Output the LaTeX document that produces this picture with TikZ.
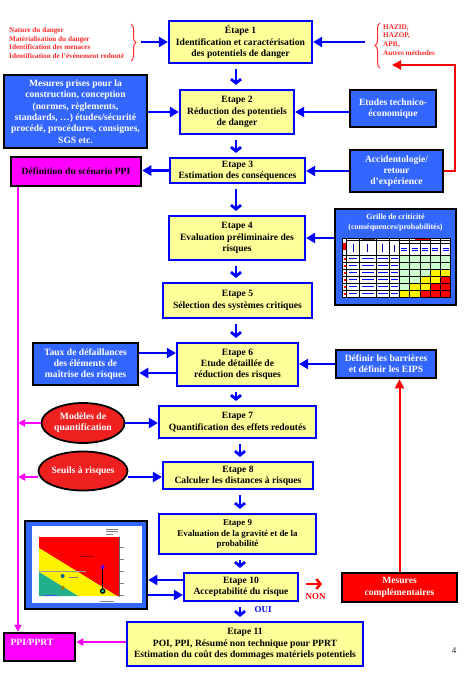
\documentclass[tikz,border=0pt]{standalone}
\usepackage{fontspec}
\setmainfont{Liberation Serif}
\usetikzlibrary{arrows.meta,shapes.geometric,decorations.pathreplacing,calc}
\definecolor{boxyellow}{HTML}{FFFF99}
\definecolor{boxblue}{HTML}{3366FF}
\definecolor{pureblue}{HTML}{0000FF}
\definecolor{mag}{HTML}{FF00FF}
\definecolor{redtxt}{HTML}{FF2A2A}
\definecolor{ellred}{HTML}{EE2020}
\definecolor{lgreen}{HTML}{CCFFCC}
\definecolor{teal2}{HTML}{22B08C}
\begin{document}
\begin{tikzpicture}[x=1pt,y=-1pt,
  basefont/.style={font=\fontsize{9.6}{11.3}\selectfont\bfseries},
  etape/.style={basefont,draw=pureblue,line width=2.2pt,fill=boxyellow,align=center,inner sep=0pt},
  bbox/.style={basefont,draw=black,line width=2.5pt,fill=boxblue,text=white,align=center,inner sep=0pt},
  mbox/.style={basefont,draw=black,line width=2.5pt,fill=mag,align=center,inner sep=0pt},
  rbox/.style={basefont,draw=black,line width=2.5pt,fill=red,text=white,align=center,inner sep=0pt},
  rell/.style={basefont,ellipse,draw=black,line width=1.8pt,fill=ellred,text=white,align=center,inner sep=0pt},
  redlist/.style={font=\fontsize{7.2}{8.8}\selectfont\bfseries,text=redtxt,align=left,inner sep=0pt},
  barr/.style={draw=pureblue,line width=2.8pt,-{Triangle[length=9pt,width=10pt]}},
  darr/.style={draw=pureblue,line width=2.8pt,-{Straight Barb[length=4pt,width=10pt]},shorten <=5pt,shorten >=4pt},
  marr/.style={draw=mag,line width=2pt,-{Triangle[length=7pt,width=7pt]}},
  rarr/.style={draw=red,line width=2pt,-{Triangle[length=9pt,width=9pt]}},
  bracestyle/.style={draw=redtxt,line width=1pt,decorate,decoration={brace,amplitude=5pt}}
]
\fill[white] (0,0) rectangle (463,685);
\useasboundingbox (0,0) rectangle (463,685);

% ---------- main steps ----------
\node[etape,minimum width=143pt,minimum height=42pt] (e1) at (240.5,42) {Étape 1\\Identification et caractérisation\\des potentiels de danger};
\node[etape,minimum width=114pt,minimum height=44pt] (e2) at (237,112) {Etape 2\\Réduction des potentiels\\de danger};
\node[etape,minimum width=135pt,minimum height=25pt] (e3) at (237.5,170.5) {Etape 3\\Estimation des conséquences};
\node[etape,minimum width=136pt,minimum height=44pt] (e4) at (237,238) {Etape 4\\Evaluation préliminaire des\\risques};
\node[etape,minimum width=149pt,minimum height=35pt] (e5) at (237.5,300.5) {Etape 5\\Sélection des systèmes critiques};
\node[etape,minimum width=121pt,minimum height=43pt] (e6) at (237.5,364.5) {Etape 6\\Etude détaillée de\\réduction des risques};
\node[etape,minimum width=157pt,minimum height=32pt] (e7) at (237.5,422) {Etape 7\\Quantification des effets redoutés};
\node[etape,minimum width=150pt,minimum height=27pt] (e8) at (238,475.5) {Etape 8\\Calculer les distances à risques};
\node[etape,minimum width=157pt,minimum height=40pt,font=\fontsize{8.9}{10.8}\selectfont\bfseries] (e9) at (237.5,534) {Etape 9\\Evaluation de la gravité et de la\\probabilité};
\node[etape,minimum width=114pt,minimum height=28pt] (e10) at (241,587) {Etape 10\\Acceptabilité du risque};
\node[etape,minimum width=236pt,minimum height=44pt] (e11) at (245,644) {Etape 11\\POI, PPI, Résumé non technique pour PPRT\\Estimation du coût des dommages matériels potentiels};

% ---------- side boxes ----------
\node[bbox,minimum width=143pt,minimum height=73pt] (mes) at (75.5,111.5) {Mesures prises pour la\\construction, conception\\(normes, règlements,\\standards, …) études/sécurité\\procédé, procédures, consignes,\\SGS etc.};
\node[bbox,minimum width=86pt,minimum height=37pt] (etu) at (393,108.5) {Etudes technico-\\économique};
\node[bbox,minimum width=93pt,minimum height=42pt] (acc) at (396.5,171) {Accidentologie/\\retour\\d’expérience};
\node[mbox,minimum width=130pt,minimum height=29pt] (ppi) at (76,171.5) {Définition du scénario PPI};
\node[bbox,minimum width=121pt,minimum height=96pt] (grille) at (395.5,257) {};
\node[basefont,font=\fontsize{8}{10}\selectfont\bfseries,text=white,align=center,inner sep=0pt] (gtitle) at (395.5,223) {Grille de criticité\\(conséquences/probabilités)};
\node[bbox,minimum width=105pt,minimum height=42pt] (taux) at (85.5,364) {Taux de défaillances\\des éléments de\\maîtrise des risques};
\node[bbox,minimum width=100pt,minimum height=28pt] (def) at (386,364) {Définir les barrières\\et définir les EIPS};
\node[rell,minimum width=83pt,minimum height=40pt] (mod) at (83,423) {Modèles de\\quantification};
\node[rell,minimum width=83pt,minimum height=39pt] (seu) at (83,471) {Seuils à risques};
\node[bbox,minimum width=122pt,minimum height=88pt] (chart) at (86,565) {};
\node[rbox,minimum width=115pt,minimum height=29pt] (mc) at (399.5,587.5) {Mesures\\complémentaires};
\node[mbox,minimum width=71pt,minimum height=28pt] (pprt) at (39.5,647) {};
\node[basefont,text=white,inner sep=0pt] (pprtlbl) at (32,642) {PPI/PPRT};

% ---------- red lists ----------
\node[redlist,anchor=west] (lst1) at (9,43) {Nature du danger\\Matérialisation du danger\\Identification des menaces\\Identification de l’événement redouté};
\node[redlist,anchor=west] (lst2) at (383,40) {HAZID,\\HAZOP,\\APR,\\Autres méthodes};
\draw[bracestyle] (131,24) -- (131,61);
\coordinate (lbr) at (141,42);
\draw[bracestyle] (380,68) -- (380,23);
\coordinate (rbr) at (365,42);

% ---------- criticality grid ----------
\fill[white] (342.3,238) rectangle (450.7,297);
\fill[lgreen] (399.3,255) rectangle (450.7,297);
\foreach \c/\r/\col in {4/3/yellow,5/3/yellow,3/4/yellow,4/4/yellow,5/4/red,2/5/yellow,3/5/yellow,4/5/red,5/5/red,1/6/yellow,2/6/yellow,3/6/red,4/6/red,5/6/red}
  \fill[\col] ({399.3+(\c-1)*10.28},{255+(\r-1)*7}) rectangle ++(10.28,7);
\foreach \x in {346.7,359.3,376,389.3,399.3,409.58,419.86,430.14,440.42}
  \draw[black,line width=0.5pt] (\x,238) -- (\x,297);
\foreach \y in {255,262,269,276,283,290}
  \draw[black,line width=0.5pt] (342.3,\y) -- (450.7,\y);
\draw[black,line width=0.4pt] (346.7,240.5) -- (450.7,240.5);
\draw[black,line width=0.4pt] (399.3,243) -- (450.7,243);
\draw[black,line width=1pt] (342.3,238) rectangle (450.7,297);
\fill[red] (342.8,243) rectangle (346.2,250);
\fill[red] (415,238.6) rectangle (430,240.2);
\fill[black!70] (362,238.6) rectangle (375,240.2);
\foreach \r in {1,...,6} {
  \fill[red] (343.5,{255+(\r-1)*7+2.5}) rectangle (345.5,{255+(\r-1)*7+4.5});
  \foreach \xa/\xb in {349/357,361.5/374,378/387.5,391/398}
    \draw[pureblue,line width=0.6pt] (\xa,{255+(\r-1)*7+3.5}) -- (\xb,{255+(\r-1)*7+3.5});
}
\foreach \xm in {353,367.6,382.6}
  \draw[pureblue!70!black,line width=0.8pt] (\xm,244) -- (\xm,252);
\draw[pureblue!70!black,line width=0.8pt] (394.3,245) -- (394.3,252);
\foreach \xm in {404.4,414.7,425,435.3,445.6}
  \draw[pureblue,line width=0.6pt] ({\xm-3},248) -- ({\xm+3},248) ({\xm-3},250.5) -- ({\xm+3},250.5);

% ---------- risk chart ----------
\fill[white] (32,526) rectangle (142,603);
\fill[red] (39,537) -- (119,537) -- (119,596) -- (117,596) -- (39,548) -- cycle;
\fill[yellow] (39,548) -- (117,596) -- (78,596) -- (39,572) -- cycle;
\fill[teal2] (39,572) -- (78,596) -- (39,596) -- cycle;
\draw[black!40,line width=0.8pt] (39,571) -- (86,571);
\draw[black,line width=0.8pt] (102.7,567) -- (102.7,591);
\fill[blue!60!magenta] (102.7,567) circle (2pt);
\draw[black,line width=1.2pt,fill=teal2] (102.7,591) circle (2.2pt);
\fill[teal!80!blue] (62.7,576) circle (2pt);
\fill[olive] (62.7,588) circle (2pt);
\draw[red!60!black,line width=0.6pt] (79,556.5) -- (94,556.5);
\draw[black!50,line width=0.6pt] (69,577) -- (78,577);
\draw[blue!70,line width=0.6pt] (44,595) -- (57,595);
\draw[black!60,line width=0.4pt] (119,537) -- (119,597);
\foreach \y in {547,559,571,583,595}
  \draw[black!50,line width=0.4pt] (120,\y) -- (124,\y);
\draw[black!50,line width=0.4pt] (106,529) -- (118,529) (106,531.5) -- (118,531.5) (106,534) -- (113,534);
\draw[black!50,line width=0.4pt] (100,601.5) -- (114,601.5);

% ---------- vertical flow arrows ----------
\coordinate (axA) at (236,0);
\coordinate (axB) at (240,0);
\draw[darr] (e1.south -| axA) -- (e2.north -| axA);
\draw[darr] (e2.south -| axA) -- (e3.north -| axA);
\draw[darr] (e3.south -| axA) -- (e4.north -| axA);
\draw[darr] (e4.south -| axA) -- (e5.north -| axA);
\draw[darr] (e5.south -| axA) -- (e6.north -| axA);
\draw[darr] (e6.south -| axA) -- (e7.north -| axA);
\draw[darr] (e7.south -| axB) -- (e8.north -| axB);
\draw[darr] (e8.south -| axB) -- (e9.north -| axB);
\draw[darr] (e9.south -| axB) -- (e10.north -| axB);
\draw[darr] (e10.south -| axB) -- (e11.north -| axB);
\node[basefont,font=\fontsize{9}{10}\selectfont\bfseries,text=pureblue,inner sep=0pt] (oui) at (263,610) {OUI};

% ---------- horizontal blue arrows ----------
\draw[barr] (lbr) -- (lbr -| e1.west);
\draw[barr] (rbr) -- (rbr -| e1.east);
\draw[barr] (mes.east |- e2.west) -- (e2.west);
\draw[barr] (etu.west |- e2.east) -- (e2.east);
\draw[barr] (e3.west) -- (e3.west -| ppi.east);
\draw[barr] (acc.west) -- (acc.west -| e3.east);
\draw[barr] (grille.west |- e4.east) -- (e4.east);
\draw[barr] ($(taux.east)+(0,-11)$) -- ($(taux.east -| e6.west)+(0,-11)$);
\draw[barr] ($(e6.west)+(0,8.5)$) -- ($(e6.west -| taux.east)+(0,8.5)$);
\draw[barr] (def.west) -- (def.west -| e6.east);
\draw[barr] (mod.east) -- (mod.east -| e7.west);
\draw[barr] ($(seu.east)+(-0.5,6)$) -- ($(seu.east -| e8.west)+(0,6)$);
\draw[barr] ($(e10.west)+(0,-7)$) -- ($(e10.west -| chart.east)+(0,-7)$);
\draw[barr] ($(chart.east |- e10.west)+(0,8)$) -- ($(e10.west)+(0,8)$);

% ---------- magenta ----------
\coordinate (mline) at (18,0);
\draw[marr] (ppi.south -| mline) -- (pprt.north -| mline);
\draw[marr] (mod.west) -- (mod.west -| mline);
\draw[marr] ($(seu.west)+(0.5,6)$) -- ($(seu.west -| mline)+(0,6)$);
\draw[marr] (e11.west |- pprtlbl) -- (pprt.east |- pprtlbl);

% ---------- red connectors ----------
\coordinate (rc) at (455,65);
\coordinate (rend) at (392,65);
\draw[rarr] (acc.east) -| (rc) -- (rend);
\draw[rarr] (mc.north) -- (mc.north |- def.south);
\coordinate (nonA) at (306,584);
\coordinate (nonB) at (322,584);
\draw[draw=red,line width=2.6pt,-{Straight Barb[length=4pt,width=10pt]}] (nonA) -- (nonB);
\node[basefont,font=\fontsize{9}{10}\selectfont\bfseries,text=red,inner sep=0pt] (non) at (315.5,596.5) {NON};

% ---------- page number ----------
\node[font=\fontsize{9}{10}\selectfont,text=black!80,inner sep=0pt] (pnum) at (454,651) {4};
\end{tikzpicture}
\end{document}
